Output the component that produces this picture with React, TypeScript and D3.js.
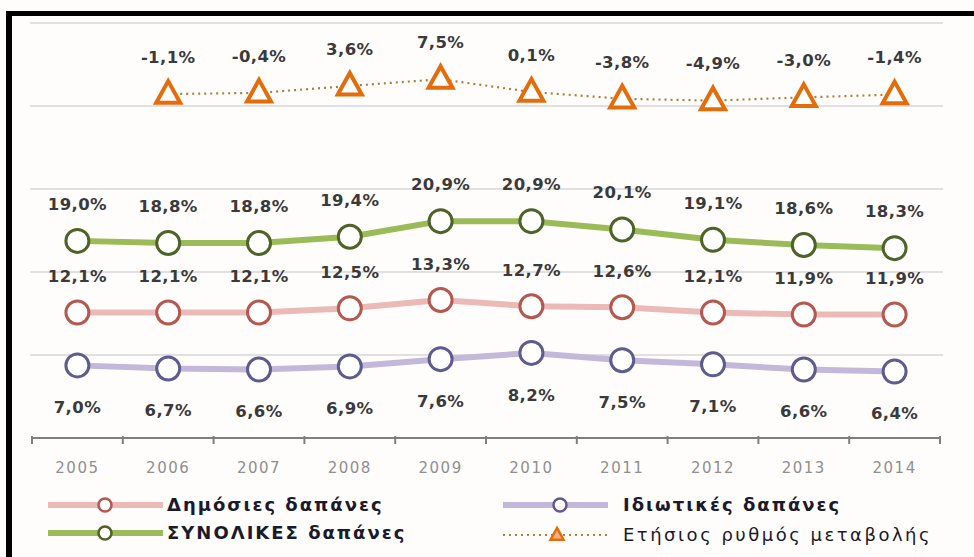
import React from "react";
import * as d3 from "d3";

const years = ["2005", "2006", "2007", "2008", "2009", "2010", "2011", "2012", "2013", "2014"];
const publicSpend = [12.1, 12.1, 12.1, 12.5, 13.3, 12.7, 12.6, 12.1, 11.9, 11.9];
const privateSpend = [7.0, 6.7, 6.6, 6.9, 7.6, 8.2, 7.5, 7.1, 6.6, 6.4];
const totalSpend = [19.0, 18.8, 18.8, 19.4, 20.9, 20.9, 20.1, 19.1, 18.6, 18.3];
const annualChange: (number | null)[] = [null, -1.1, -0.4, 3.6, 7.5, 0.1, -3.8, -4.9, -3.0, -1.4];
const gridTicks = [0, 8, 16, 24, 32, 40];

const W = 974;
const H = 557;

const fmt = (v: number) => v.toFixed(1).replace(".", ",") + "%";

export default function App() {
  const x = d3.scaleBand<string>().domain(years).range([32, 940]).padding(0);
  const cx = (y: string) => (x(y) as number) + x.bandwidth() / 2;
  const y = d3.scaleLinear().domain([0, 40]).range([438, 23]);
  const y2 = d3.scaleLinear().domain([-200, 40]).range([438, 23]);

  const lineGen = (vals: number[]) =>
    d3
      .line<number>()
      .x((_, i) => cx(years[i]))
      .y((v) => y(v))(vals) as string;

  const changeLine = d3
    .line<number | null>()
    .defined((v) => v !== null)
    .x((_, i) => cx(years[i]))
    .y((v) => y2(v as number))(annualChange) as string;

  const labelStyle: React.CSSProperties = {
    fontFamily: "'DejaVu Sans', sans-serif",
    fontWeight: "bold",
    fontSize: 16.5,
    fill: "#3a3a3a",
    letterSpacing: 0.4,
  };

  const legendStyle: React.CSSProperties = {
    fontFamily: "'DejaVu Sans', sans-serif",
    fontWeight: "bold",
    fontSize: 18,
    fill: "#1a1a2a",
    letterSpacing: 2,
  };

  const series = [
    { vals: totalSpend, line: "#9BBB59", stroke: "#4F6228", off: -37 },
    { vals: publicSpend, line: "#EBBAB6", stroke: "#B5584F", off: -36 },
    { vals: privateSpend, line: "#C3B8DA", stroke: "#5E5B8F", off: 42 },
  ];

  const tri = (s: number) => {
    const h = s * 0.9;
    return `M0,${-h * 0.6}L${s / 2},${h * 0.4}L${-s / 2},${h * 0.4}Z`;
  };

  const gridLines = gridTicks.slice(1);

  return (
    <svg
      width={W}
      height={H}
      style={{ position: "absolute", left: 0, top: 0, background: "#fffdfc" }}
    >
      {/* frame */}
      <rect x={6} y={11} width={W - 6} height={5} fill="#000" />
      <rect x={6} y={11} width={6} height={H - 11} fill="#000" />

      {/* gridlines */}
      {gridLines.map((t) => (
        <line key={t} x1={30} x2={943} y1={y(t)} y2={y(t)} stroke="#c4c4c4" strokeWidth={1.2} />
      ))}

      {/* axis */}
      <line x1={32} x2={940} y1={y(0)} y2={y(0)} stroke="#7f7f7f" strokeWidth={2} />
      {d3.range(years.length + 1).map((i) => {
        const xx = 32 + i * x.bandwidth();
        return <line key={i} x1={xx} x2={xx} y1={y(0) - 2} y2={y(0) + 6} stroke="#7f7f7f" strokeWidth={2} />;
      })}
      {years.map((yr) => (
        <text
          key={yr}
          x={cx(yr)}
          y={468}
          dy="0.35em"
          textAnchor="middle"
          style={{ fontFamily: "'DejaVu Sans', sans-serif", fontSize: 15, fill: "#8f8f8f", letterSpacing: 1.5 }}
        >
          {yr}
        </text>
      ))}

      {/* annual change */}
      <path d={changeLine} fill="none" stroke="#A8803A" strokeWidth={2.2} strokeDasharray="2,4" />
      {annualChange.map((v, i) =>
        v === null ? null : (
          <g key={i}>
            <path
              d={tri(24)}
              transform={`translate(${cx(years[i])},${y2(v)})`}
              fill="#fff"
              stroke="#E46C0A"
              strokeWidth={4}
              strokeLinejoin="miter"
            />
            <text x={cx(years[i])} y={y2(v) - 37} dy="0.35em" textAnchor="middle" style={labelStyle}>
              {fmt(v)}
            </text>
          </g>
        )
      )}

      {/* series lines */}
      {series.map((s, si) => (
        <g key={si}>
          <path d={lineGen(s.vals)} fill="none" stroke={s.line} strokeWidth={6} strokeLinejoin="round" />
          {s.vals.map((v, i) => (
            <circle key={i} cx={cx(years[i])} cy={y(v)} r={11.5} fill="#fff" stroke={s.stroke} strokeWidth={3} />
          ))}
          {s.vals.map((v, i) => (
            <text key={"t" + i} x={cx(years[i])} y={y(v) + s.off} dy="0.35em" textAnchor="middle" style={labelStyle}>
              {fmt(v)}
            </text>
          ))}
        </g>
      ))}

      {/* legend */}
      <g>
        <line x1={48} x2={163} y1={505} y2={505} stroke={series[1].line} strokeWidth={6} />
        <circle cx={105} cy={505} r={6.5} fill="#fff" stroke={series[1].stroke} strokeWidth={2.5} />
        <text x={167} y={505} dy="0.35em" style={legendStyle}>
          Δημόσιες δαπάνες
        </text>

        <line x1={48} x2={163} y1={533} y2={533} stroke={series[0].line} strokeWidth={6} />
        <circle cx={105} cy={533} r={6.5} fill="#fff" stroke={series[0].stroke} strokeWidth={2.5} />
        <text x={167} y={533} dy="0.35em" style={legendStyle}>
          ΣΥΝΟΛΙΚΕΣ δαπάνες
        </text>

        <line x1={503} x2={608} y1={505} y2={505} stroke={series[2].line} strokeWidth={6} />
        <circle cx={560} cy={505} r={6.5} fill="#fff" stroke={series[2].stroke} strokeWidth={2.5} />
        <text x={623} y={505} dy="0.35em" style={legendStyle}>
          Ιδιωτικές δαπάνες
        </text>

        <line x1={503} x2={608} y1={535} y2={535} stroke="#A8803A" strokeWidth={2.2} strokeDasharray="2,4" />
        <path d={tri(13)} transform="translate(557,535)" fill="#F4B183" stroke="#E46C0A" strokeWidth={2.5} />
        <text
          x={623}
          y={535}
          dy="0.35em"
          style={{ ...legendStyle, fontWeight: "normal", letterSpacing: 2.5 }}
        >
          Ετήσιος ρυθμός μεταβολής
        </text>
      </g>
    </svg>
  );
}
